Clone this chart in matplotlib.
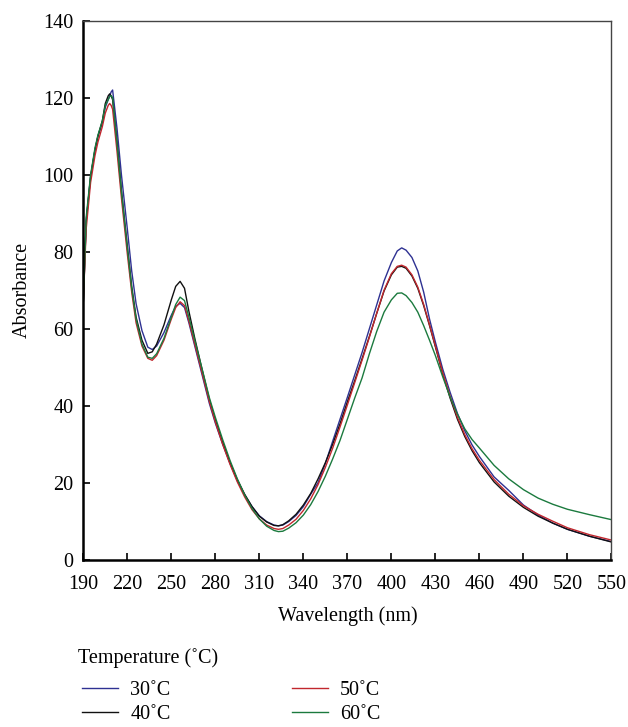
import matplotlib.pyplot as plt

plt.rcParams['font.family'] = ['Liberation Serif', 'DejaVu Serif']

# wavelength grid (nm)
wl = [190, 192, 195, 198, 200, 203, 205, 207, 208, 209, 210, 213, 216, 220,
      223, 226, 230, 234, 237, 240, 245, 250, 253, 256, 259, 262, 266, 270,
      276, 280, 285, 290, 295, 300, 305, 310, 315, 320, 323, 326, 330, 335,
      340, 345, 350, 355, 360, 365, 370, 375, 380, 385, 390, 395, 400, 404,
      407, 410, 414, 418, 422, 426, 430, 435, 440, 445, 450, 455, 460, 470,
      480, 490, 500, 510, 520, 535, 550]

abs_30 = [66.5, 88, 99.5, 106.5, 110, 113.5, 117.5, 119.5, 120.5, 121.5, 122,
          112, 100, 86, 75, 66.5, 59.5, 55.2, 54.6, 55.5, 59, 63.5, 65.8,
          66.6, 65.5, 61.5, 55.5, 49.5, 40.5, 35.5, 30, 25, 20.5, 16.8, 13.8,
          11.4, 9.9, 9.0, 8.8, 9.0, 9.9, 11.5, 13.8, 17, 20, 25, 30.8, 36.5,
          42.2, 48, 53.8, 60, 66.2, 72.4, 77.2, 80.2, 81, 80.4, 78.5, 75,
          69.5, 62.5, 56.5, 49.5, 43.5, 38, 33.5, 29.8, 26.8, 21.5, 18, 14.2,
          11.6, 9.5, 7.9, 6.1, 4.7]

abs_40 = [66.7, 88, 99.5, 106.5, 110, 114, 118.5, 120.5, 121, 120.5, 119.5,
          108.5, 96, 81.5, 71, 63, 57, 53.6, 54, 56, 61, 67.5, 71, 72.3, 70.5,
          64.5, 57.5, 51, 41.5, 36.3, 30.5, 25.3, 20.8, 17, 13.8, 11.3, 9.8,
          8.9, 8.8, 9.1, 10.1, 11.8, 14.2, 17.2, 21, 25.2, 30, 35.3, 41, 46.5,
          52.2, 58, 64, 69.8, 74, 76, 76.2, 75.7, 73.7, 70.5, 66, 60.8, 55.3,
          48.2, 42, 36.5, 32, 28.3, 25.2, 20.2, 16.5, 13.6, 11.3, 9.5, 7.9,
          6.1, 4.6]

abs_50 = [66.7, 86, 98, 105, 108.5, 112.5, 116, 118, 118.5, 118, 117, 106,
          94, 79.5, 69.5, 61.5, 55.5, 52.3, 51.8, 53, 57, 62.5, 65.5, 67, 66,
          62, 56, 50, 41, 35.8, 30, 24.8, 20.2, 16.3, 13, 10.6, 9, 8.1, 7.9,
          8.1, 9, 10.5, 12.8, 15.8, 19.5, 24, 29, 34.5, 40.2, 46, 51.8, 57.8,
          64, 70, 74.3, 76.2, 76.5, 76, 74, 70.8, 66.3, 61, 55.5, 48.5, 42.5,
          37, 32.5, 28.8, 25.8, 20.8, 17, 14, 11.8, 10, 8.3, 6.5, 5.1]

abs_60 = [66.7, 89, 100, 107, 110.3, 114, 118, 119.5, 120.3, 120.5, 120, 108,
          95.5, 81, 70.5, 62.5, 56, 52.6, 52.3, 53.5, 57.5, 63, 66.3, 68.2,
          67.3, 63, 57, 51, 42, 37, 31.2, 25.8, 21, 16.8, 13.3, 10.6, 8.7,
          7.6, 7.3, 7.4, 8.2, 9.6, 11.6, 14.3, 17.7, 21.7, 26.2, 31, 36.5, 42,
          47.2, 53.5, 59.3, 64.3, 67.5, 69.2, 69.3, 68.6, 66.8, 64.3, 60.8, 57,
          53, 47.5, 42.3, 37.8, 34, 31.2, 29, 24.5, 21, 18.2, 16, 14.4, 13.1,
          11.7, 10.4]

labels = ['30˚C', '40˚C', '50˚C', '60˚C']
colors = ['#2e3192', '#111111', '#c1272d', '#1b7a3e']
series = [abs_30, abs_40, abs_50, abs_60]

xticks = [190, 220, 250, 280, 310, 340, 370, 400, 430, 460, 490, 520, 550]
yticks = [0, 20, 40, 60, 80, 100, 120, 140]

fs = 14.5

fig = plt.figure(figsize=(6.28, 7.27), dpi=100)
ax = fig.add_axes([0.1326, 0.2301, 0.9737 - 0.1326, 0.9715 - 0.2301])

for y, c, lab in zip(series, colors, labels):
    ax.plot(wl, y, color=c, lw=1.0, label=lab)

ax.set_xlim(190, 550)
ax.set_ylim(0, 140)
ax.set_xticks(xticks)
ax.set_yticks(yticks)
ax.tick_params(direction='in', length=5, width=1.2, labelsize=fs,
               top=False, right=False)
ax.tick_params(axis='x', pad=11)
ax.tick_params(axis='y', pad=7)

for s in ['left', 'bottom']:
    ax.spines[s].set_linewidth(1.8)
    ax.spines[s].set_color('black')
for s in ['top', 'right']:
    ax.spines[s].set_linewidth(1.0)
    ax.spines[s].set_color('#444444')

ax.set_xlabel('Wavelength (nm)', fontsize=fs, labelpad=9)
ax.set_ylabel('Absorbance', fontsize=fs, labelpad=8)

fig.text(0.124, 0.0949, 'Temperature (˚C)', fontsize=fs, va='center', ha='left')
leg = fig.legend(loc='upper left', bbox_to_anchor=(0.1306, 0.0633), ncol=2,
                 fontsize=fs, frameon=False, borderpad=0, borderaxespad=0,
                 handlelength=1.8, handletextpad=0.6, columnspacing=6.0,
                 labelspacing=0.22)

fig.savefig('out.png', dpi=100)
